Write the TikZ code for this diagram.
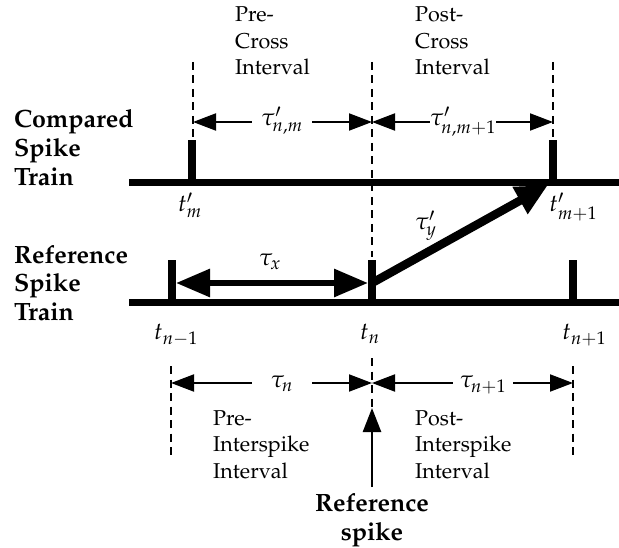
\documentclass[tikz,border=0pt]{standalone}
\usepackage[T1]{fontenc}
\usepackage{mathpazo}
\usetikzlibrary{arrows.meta}
\begin{document}
\begin{tikzpicture}[x=1pt,y=-1pt,
  train/.style={line width=7pt},
  spikemark/.style={line width=7.5pt},
  dashv/.style={line width=2.3pt, dash pattern=on 8pt off 5.5pt},
  thinarr/.style={line width=2pt, -{Triangle[length=23pt,width=17pt]}},
  taux/.style={line width=6pt, {Triangle[length=34pt,width=27pt]}-{Triangle[length=34pt,width=27pt]}},
  diagarr/.style={line width=8.5pt, -{Triangle[length=32pt,width=29pt]}},
  refarr/.style={line width=2.5pt, -{Triangle[length=24pt,width=18pt]}},
  boldlbl/.style={font=\fontsize{25}{29}\selectfont\bfseries, align=left, inner sep=0pt, anchor=base west},
  txtlbl/.style={font=\fontsize{21.5}{26.5}\selectfont, align=left, inner sep=0pt, anchor=base west},
  mathlbl/.style={font=\fontsize{24}{28}\selectfont, inner sep=0pt},
  gaplbl/.style={mathlbl, anchor=base, minimum width=60pt}
]
\useasboundingbox[fill=white] (0,0) rectangle (619,548);

% spike trains
\coordinate (cL) at (129,183); \coordinate (cR) at (619,183);
\coordinate (rL) at (129,302.5); \coordinate (rR) at (619,302.5);
\draw[train] (cL) -- (cR);
\draw[train] (rL) -- (rR);

% compared spikes
\coordinate (cm) at (192,183);   \coordinate (cmT) at (192,140);
\coordinate (cm1) at (553,183);  \coordinate (cm1T) at (553,140);
\draw[spikemark] (cm) -- (cmT);
\draw[spikemark] (cm1) -- (cm1T);

% reference spikes
\coordinate (rn0) at (172,302.5); \coordinate (rn0T) at (172,260);
\coordinate (rn) at (372,302.5);  \coordinate (rnT) at (372,260);
\coordinate (rn1) at (573,302.5); \coordinate (rn1T) at (573,260);
\draw[spikemark] (rn0) -- (rn0T);
\draw[spikemark] (rn) -- (rnT);
\draw[spikemark] (rn1) -- (rn1T);

% top dashed lines
\coordinate (dA0) at (193,62);  \coordinate (dA1) at (193,137);
\coordinate (dB0) at (372,62);  \coordinate (dB1) at (372,257);
\coordinate (dC0) at (553,62);  \coordinate (dC1) at (553,137);
\draw[dashv] (dA0) -- (dA1);
\draw[dashv] (dB0) -- (dB1);
\draw[dashv] (dC0) -- (dC1);

% bottom dashed lines
\coordinate (eA0) at (171,366); \coordinate (eA1) at (171,460);
\coordinate (eB0) at (372,358); \coordinate (eB1) at (372,410);
\coordinate (eC0) at (573,366); \coordinate (eC1) at (573,460);
\draw[dashv] (eA0) -- (eA1);
\draw[dashv] (eB0) -- (eB1);
\draw[dashv] (eC0) -- (eC1);

% top interval arrows
\coordinate (aA) at (193,122); \coordinate (aB) at (372,122); \coordinate (aC) at (553,122);
\node[gaplbl] (tnm) at (282,126) {$\tau'_{n,m}$};
\node[gaplbl] (tnm1) at (463,126) {$\tau'_{n,m+1}$};
\draw[thinarr] (tnm.west |- aA) -- (aA);
\draw[thinarr] (tnm.east |- aB) -- (aB);
\draw[thinarr] (tnm1.west |- aB) -- (aB);
\draw[thinarr] (tnm1.east |- aC) -- (aC);

% bottom interval arrows
\coordinate (bA) at (171,383); \coordinate (bB) at (372,383); \coordinate (bC) at (573,383);
\node[gaplbl] (tn) at (282,388) {$\tau_n$};
\node[gaplbl] (tn1) at (483,388) {$\tau_{n+1}$};
\draw[thinarr] (tn.west |- bA) -- (bA);
\draw[thinarr] (tn.east |- bB) -- (bB);
\draw[thinarr] (tn1.west |- bB) -- (bB);
\draw[thinarr] (tn1.east |- bC) -- (bC);

% tau_x and tau'_y
\coordinate (xA) at (176,283); \coordinate (xB) at (368,283);
\draw[taux] (xA) -- (xB);
\coordinate (yA) at (372,283); \coordinate (yB) at (548,185);
\draw[diagarr] (yA) -- (yB);
\node[mathlbl, anchor=base] (tx) at (270,266) {$\tau_x$};
\node[mathlbl, anchor=base west] (ty) at (415,230) {$\tau'_y$};

% reference spike arrow
\coordinate (sB) at (372,487); \coordinate (sT) at (372,408);
\draw[refarr] (sB) -- (sT);

% spike time labels
\node[mathlbl, anchor=base] (ltm) at (190,212) {$t'_m$};
\node[mathlbl, anchor=base west] (ltm1) at (549,212) {$t'_{m+1}$};
\node[mathlbl, anchor=base] (ltn0) at (176,340) {$t_{n-1}$};
\node[mathlbl, anchor=base] (ltn) at (370,340) {$t_n$};
\node[mathlbl, anchor=base west] (ltn1) at (562,340) {$t_{n+1}$};

% text labels (base anchor = baseline of the last line)
\node[boldlbl] (comp) at (14,186) {Compared\\Spike\\Train};
\node[boldlbl] (refl) at (14,321) {Reference\\Spike\\Train};
\node[txtlbl] (prec) at (235,75) {Pre-\\Cross\\Interval};
\node[txtlbl] (postc) at (415,75) {Post-\\Cross\\Interval};
\node[txtlbl] (prei) at (213,478) {Pre-\\Interspike\\Interval};
\node[txtlbl] (posti) at (415,478) {Post-\\Interspike\\Interval};
\node[boldlbl, align=center, anchor=base] (refs) at (372,540) {Reference\\spike};
\end{tikzpicture}
\end{document}
